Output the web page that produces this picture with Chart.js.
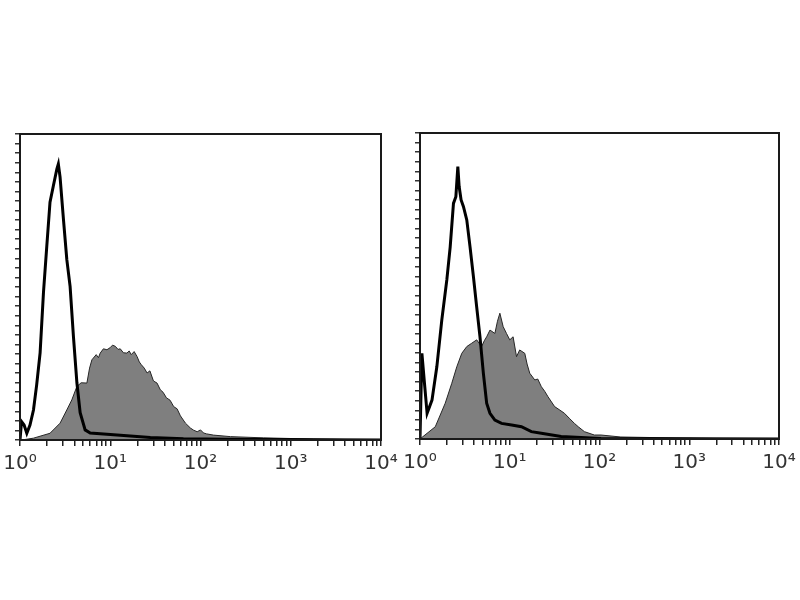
<!DOCTYPE html>
<html>
<head>
<meta charset="utf-8">
<script src="https://cdn.jsdelivr.net/npm/chart.js@4/dist/chart.umd.min.js"></script>
<style>
  body { margin: 0; background: #fff; }
  .panel { position: absolute; top: 120px; width: 400px; height: 360px; }
  #left { left: 0; }
  #right { left: 400px; }
</style>
</head>
<body>
<div class="panel" id="left"><canvas id="histLeft"></canvas></div>
<div class="panel" id="right"><canvas id="histRight"></canvas></div>
<script>
/**
 * Data (x = fluorescence, y = % of max)
 */
// Left panel, isotype control (open black line)
const leftControlX = [1, 1.04, 1.11, 1.19, 1.29, 1.41, 1.53, 1.67, 1.82, 1.98, 2.15, 2.34, 2.56, 2.66, 2.78, 3.03, 3.3, 3.59, 3.91, 4.27, 4.64, 5.27, 6.0, 11.9, 27.8, 64.7, 360, 10000];
const leftControlY = [0, 6.0, 4.9, 2.2, 4.9, 9.8, 18, 28.5, 48.2, 63.3, 77.7, 83, 88.5, 90.2, 85.9, 72.1, 59, 50.2, 33.8, 18.7, 8.9, 3.3, 2.3, 1.6, 0.8, 0.4, 0.2, 0];

// Left panel, stained sample (filled grey)
const leftStainX = [1, 1.04, 1.41, 2.15, 2.78, 3.3, 3.75, 4.27, 4.76, 5.51, 5.9, 6.26, 6.99, 7.4, 7.74, 8.4, 9.19, 10, 10.6, 11.4, 12.2, 12.9, 14, 15.3, 16.2, 17.1, 18.4, 19.8, 21, 22.1, 23.8, 25.6, 27.5, 30.1, 33, 35.9, 38.5, 41.9, 46, 50.5, 55, 59.9, 68.1, 77.4, 84, 91.9, 100, 108, 117, 139, 215, 501, 1800, 10000];
const leftStainY = [0, 0, 0.6, 2.2, 5.5, 9.8, 13.1, 17.5, 18.7, 18.6, 23.5, 26.2, 27.9, 26.9, 28.4, 29.8, 29.5, 30.2, 31.0, 30.6, 29.6, 29.8, 28.5, 28.4, 29.1, 27.9, 28.9, 27.3, 25.5, 24.6, 23.5, 21.9, 22.6, 19.3, 18.6, 16.4, 15.6, 13.8, 13.0, 10.9, 10.2, 7.9, 5.5, 3.9, 3.2, 2.7, 3.3, 2.3, 2.0, 1.6, 1.1, 0.7, 0.3, 0];

// Right panel, isotype control (open black line)
const rightControlX = [1, 1.05, 1.13, 1.2, 1.36, 1.54, 1.75, 1.99, 2.17, 2.36, 2.51, 2.64, 2.73, 2.87, 3.05, 3.32, 3.61, 3.94, 4.28, 4.66, 5.08, 5.53, 6.02, 6.83, 8.1, 10.5, 13.5, 17.4, 22.5, 37.4, 104, 10000];
const rightControlY = [0, 28, 17.1, 8.4, 12.7, 23.6, 38.9, 52, 62.8, 77, 79.2, 89, 82.5, 78.1, 75.9, 71.6, 62.8, 53, 43.2, 33.4, 21.5, 11.7, 8.4, 6.2, 5.1, 4.6, 4.0, 2.4, 1.9, 0.8, 0.2, 0];

// Right panel, stained sample (filled grey)
const rightStainX = [1, 1.05, 1.48, 1.91, 2.26, 2.57, 2.92, 3.32, 3.77, 4.28, 4.86, 5.2, 5.53, 6.02, 6.83, 7.3, 7.76, 8.45, 9.2, 10, 10.9, 11.9, 12.9, 14.7, 15.6, 16.7, 19, 20.5, 22.5, 24.5, 26.7, 31.6, 35.5, 40.7, 46, 52.6, 58, 67.9, 87.6, 104, 173, 1300, 10000];
const rightStainY = [0, 0.5, 4.0, 11.7, 18.2, 23.6, 28, 30.2, 31.3, 32.4, 30.2, 32.1, 33.4, 35.6, 34.5, 38.5, 41.1, 36.7, 34.5, 32.4, 33.4, 26.9, 29.1, 28, 24.5, 21.5, 19.3, 19.6, 17.1, 15.6, 13.8, 10.6, 9.6, 8.4, 6.8, 5.1, 4.0, 2.4, 1.3, 1.3, 0.65, 0.2, 0];

// Axis tick labels (decades)
const decadeLabels = { 1: "10⁰", 10: "10¹", 100: "10²", 1000: "10³", 10000: "10⁴" };

/**
 * Helpers
 */
const toPoints = (xs, ys) => xs.map((x, i) => ({ x: x, y: ys[i] }));

// every 1..9 multiple of each decade, as on a cytometer log axis
const logTicks = [];
for (let d = 1; d < 10000; d *= 10) {
  for (let m = 1; m < 10; m++) logTicks.push(m * d);
}
logTicks.push(10000);

// dense, unlabeled count ticks along the left edge
const countTicks = [];
for (let i = 0; i <= 32; i++) countTicks.push(i * 3.125);

// frame around the plot area
const framePlugin = {
  id: "frame",
  afterDraw(chart) {
    const { ctx, chartArea: a } = chart;
    ctx.save();
    ctx.strokeStyle = "#1a1a1a";
    ctx.lineWidth = 2;
    ctx.strokeRect(a.left, a.top, a.right - a.left, a.bottom - a.top);
    ctx.restore();
  },
};

const makeHistogram = (canvasId, controlPts, stainPts, pad, xHeight) =>
  new Chart(document.getElementById(canvasId), {
    type: "line",
    data: {
      datasets: [
        {
          label: "Isotype",
          data: controlPts,
          borderColor: "#000",
          borderWidth: 3,
          pointRadius: 0,
          fill: false,
          tension: 0,
          order: 1,
        },
        {
          label: "Stained",
          data: stainPts,
          borderColor: "#262626",
          borderWidth: 1,
          backgroundColor: "#7f7f7f",
          pointRadius: 0,
          fill: "origin",
          tension: 0,
          order: 2,
        },
      ],
    },
    options: {
      responsive: true,
      maintainAspectRatio: false,
      animation: false,
      layout: { padding: pad },
      plugins: { legend: { display: false }, tooltip: { enabled: false } },
      scales: {
        x: {
          type: "logarithmic",
          min: 1,
          max: 10000,
          border: { display: false },
          grid: { drawOnChartArea: false, drawTicks: true, tickLength: 6, color: "#222", lineWidth: 1.5 },
          afterBuildTicks: (scale) => { scale.ticks = logTicks.map((v) => ({ value: v })); },
          afterFit: (scale) => {
            scale.height = xHeight;
            scale.paddingLeft = 0;
            scale.paddingRight = 0;
          },
          ticks: {
            autoSkip: false,
            maxRotation: 0,
            minRotation: 0,
            padding: 6,
            color: "#333",
            font: { family: "DejaVu Sans", size: 20 },
            callback: (value) => decadeLabels[value] || "",
          },
        },
        y: {
          min: 0,
          max: 100,
          border: { display: false },
          grid: { drawOnChartArea: false, drawTicks: true, tickLength: 5, color: "#333", lineWidth: 1.5 },
          afterBuildTicks: (scale) => { scale.ticks = countTicks.map((v) => ({ value: v })); },
          afterFit: (scale) => {
            scale.width = 20;
            scale.paddingTop = 0;
            scale.paddingBottom = 0;
          },
          ticks: { autoSkip: false, padding: 0, font: { size: 4 }, callback: () => "" },
        },
      },
    },
    plugins: [framePlugin],
  });

makeHistogram("histLeft", toPoints(leftControlX, leftControlY), toPoints(leftStainX, leftStainY),
  { left: 0, right: 19, top: 14, bottom: 0 }, 40);
makeHistogram("histRight", toPoints(rightControlX, rightControlY), toPoints(rightStainX, rightStainY),
  { left: 0, right: 21, top: 13, bottom: 0 }, 41);
</script>
</body>
</html>
